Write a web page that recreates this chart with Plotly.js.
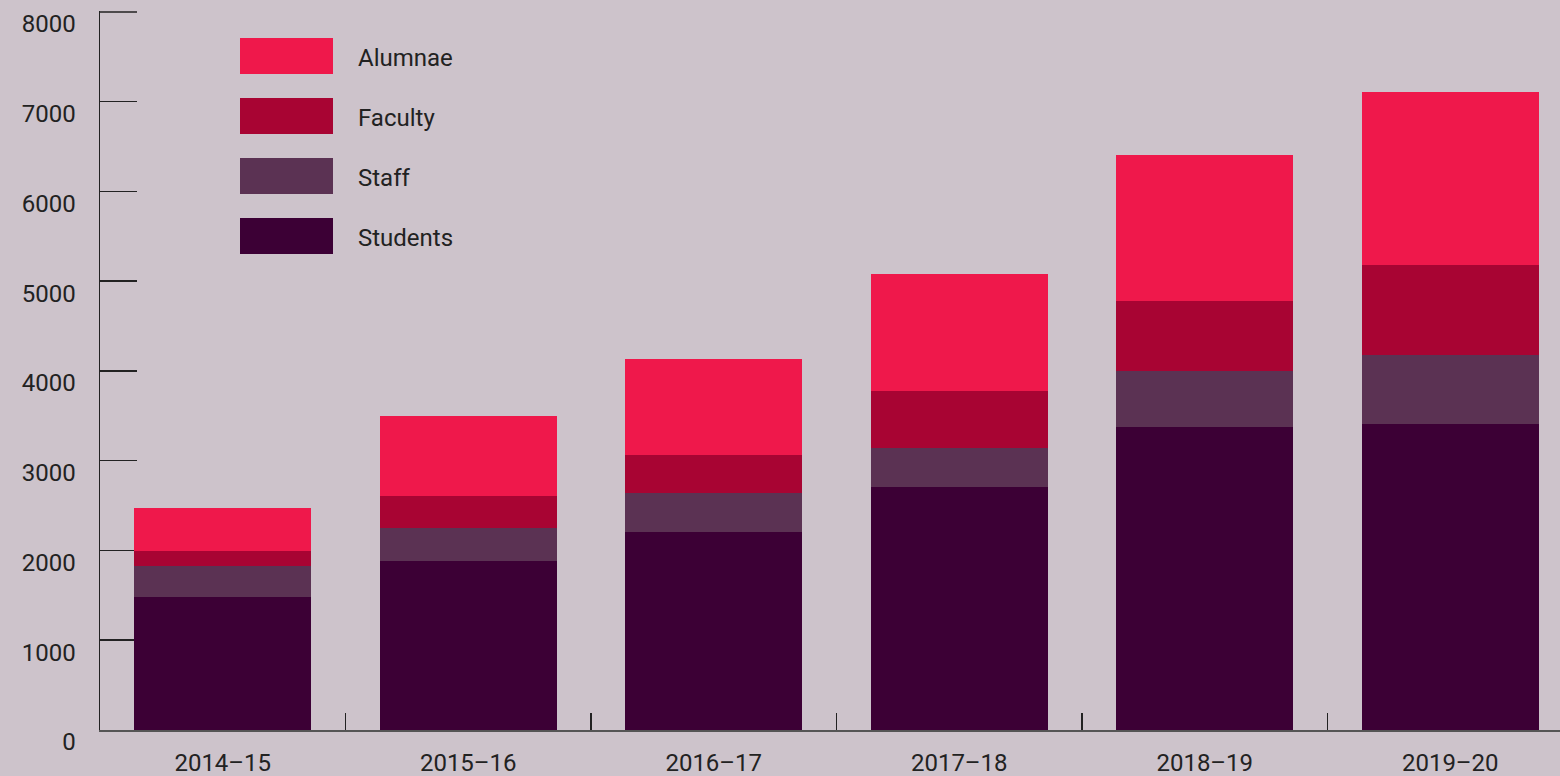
<!DOCTYPE html>
<html>
<head>
<meta charset="utf-8">
<script src="https://cdn.plot.ly/plotly-3.0.1.min.js"></script>
<style>html,body{margin:0;padding:0;background:#CDC3CB;}#chart{width:1560px;height:776px;}</style>
</head>
<body>
<div id="chart"></div>
<script>
const years = ["2014–15","2015–16","2016–17","2017–18","2018–19","2019–20"];
const students = [1480, 1885, 2205, 2710, 3375, 3410];
const staff    = [345, 365, 435, 435, 625, 770];
const faculty  = [170, 355, 425, 635, 780, 1000];
const alumnae  = [480, 895, 1070, 1300, 1625, 1930];
const yTicks = [0,1000,2000,3000,4000,5000,6000,7000,8000];

const seriesNames = ["Students","Staff","Faculty","Alumnae"];
const seriesValues = [students, staff, faculty, alumnae];
const colors = {Students:"#3C0035", Staff:"#5B3253", Faculty:"#A80433", Alumnae:"#EF184B"};

const traces = seriesNames.map((n,i)=>({
  type:"bar", name:n, x:years, y:seriesValues[i],
  marker:{color:colors[n], line:{width:0}}, showlegend:false, hoverinfo:"x+y+name"
}));

const FONT = "Roboto, 'Open Sans', sans-serif";
const TXT = {family:FONT, size:24, color:"#222222"};
const W = 1460, H = 719, L = 100, T = 11;
const legendOrder = ["Alumnae","Faculty","Staff","Students"];
const shapes = [], annotations = [];
legendOrder.forEach((n,i)=>{
  const top = 38 + i*60, bot = top + 36;
  shapes.push({type:"rect", xref:"paper", yref:"paper",
    x0:(240-L)/W, x1:(333-L)/W, y0:(T+H-bot)/H, y1:(T+H-top)/H,
    fillcolor:colors[n], line:{width:0}});
  annotations.push({xref:"paper", yref:"paper", x:(356-L)/W, y:(T+H-(top+20))/H,
    xanchor:"left", yanchor:"middle", text:n, showarrow:false, font:TXT});
});
// top y-axis tick (at the range edge)
shapes.push({type:"line", xref:"paper", yref:"y", x0:0, x1:37/W,
  y0:yTicks[yTicks.length-1], y1:yTicks[yTicks.length-1], line:{color:"#222", width:1.5}, layer:"below"});

const layout = {
  width:1560, height:776,
  margin:{l:L, r:0, t:T, b:46, pad:0},
  paper_bgcolor:"#CDC3CB", plot_bgcolor:"#CDC3CB",
  barmode:"stack", bargap:0.28,
  font:TXT,
  xaxis:{type:"category", range:[-0.5, 5.447], tickson:"boundaries",
    ticks:"inside", ticklen:17, tickwidth:1.5, tickcolor:"#222",
    showline:true, linecolor:"#555", linewidth:1.5, showgrid:false, zeroline:false,
    tickfont:TXT, ticklabelstandoff:11, fixedrange:true},
  yaxis:{range:[0,8010], tickvals:yTicks, ticktext:yTicks.map(String),
    ticks:"inside", ticklen:37, tickwidth:1.5, tickcolor:"#222",
    showline:true, linecolor:"#222", linewidth:1.5, showgrid:false, zeroline:false,
    tickfont:TXT, ticklabelshift:12, ticklabelstandoff:18,
    layer:"below traces", fixedrange:true},
  shapes:shapes, annotations:annotations, showlegend:false
};
Plotly.newPlot("chart", traces, layout, {displayModeBar:false, staticPlot:true});
</script>
</body>
</html>
